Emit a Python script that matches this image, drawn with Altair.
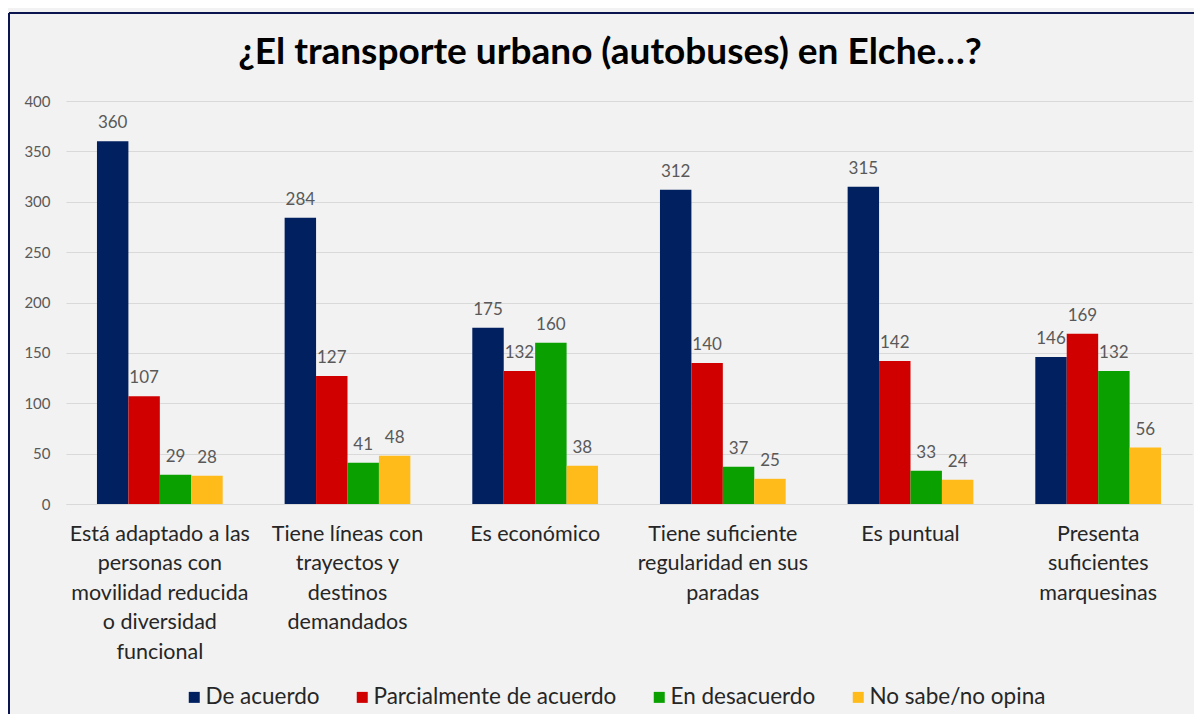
import altair as alt
import pandas as pd

categories = [
    "Está adaptado a las\npersonas con\nmovilidad reducida\no diversidad\nfuncional",
    "Tiene líneas con\ntrayectos y\ndestinos\ndemandados",
    "Es económico",
    "Tiene suficiente\nregularidad en sus\nparadas",
    "Es puntual",
    "Presenta\nsuficientes\nmarquesinas",
]
series = ["De acuerdo", "Parcialmente de acuerdo", "En desacuerdo", "No sabe/no opina"]
de_acuerdo = [360, 284, 175, 312, 315, 146]
parcialmente = [107, 127, 132, 140, 142, 169]
desacuerdo = [29, 41, 160, 37, 33, 132]
no_sabe = [28, 48, 38, 25, 24, 56]
colors = ["#002060", "#D00000", "#0AA000", "#FFBB1A"]
y_ticks = [0, 50, 100, 150, 200, 250, 300, 350, 400]
title_text = "¿El transporte urbano (autobuses) en Elche…?"

values_by_series = [de_acuerdo, parcialmente, desacuerdo, no_sabe]
rows = []
for s, vals in zip(series, values_by_series):
    for c, v in zip(categories, vals):
        rows.append({"cat": c, "series": s, "value": v})
df = pd.DataFrame(rows)

FONT = "Lato"

x_enc = alt.X(
    "cat:N",
    sort=categories,
    scale=alt.Scale(paddingInner=0.33, paddingOuter=0.165),
    axis=alt.Axis(
        title=None,
        labelAngle=0,
        labelExpr="split(datum.value, '\\n')",
        labelFont=FONT,
        labelFontSize=21.5,
        labelColor="#262626",
        labelLineHeight=29.5,
        labelPadding=19,
        labelLimit=400,
        ticks=False,
        domainColor="#D9D9D9",
        domainWidth=1,
    ),
)
xoff_enc = alt.XOffset("series:N", sort=series, scale=alt.Scale(paddingInner=0, paddingOuter=0))
y_enc = alt.Y(
    "value:Q",
    scale=alt.Scale(domain=[0, 400]),
    axis=alt.Axis(
        title=None,
        values=y_ticks,
        grid=True,
        gridColor="#D9D9D9",
        gridWidth=1,
        domain=False,
        ticks=False,
        labelPadding=16,
        labelFont=FONT,
        labelFontSize=15,
        labelColor="#595959",
    ),
)

bars = alt.Chart(df).mark_bar().encode(
    x=x_enc,
    xOffset=xoff_enc,
    y=y_enc,
    color=alt.Color(
        "series:N",
        sort=series,
        scale=alt.Scale(domain=series, range=colors),
        legend=alt.Legend(
            title=None,
            orient="none",
            direction="horizontal",
            legendX=117,
            legendY=585,
            symbolType="square",
            symbolSize=121,
            symbolStrokeWidth=0,
            labelFont=FONT,
            labelFontSize=22.5,
            labelColor="#262626",
            labelOffset=0,
            columnPadding=31,
            labelLimit=400,
        ),
    ),
)

labels = alt.Chart(df).mark_text(
    baseline="alphabetic", dy=-13, font=FONT, fontSize=17, color="#595959"
).encode(
    x=alt.X("cat:N", sort=categories),
    xOffset=alt.XOffset("series:N", sort=series),
    y=alt.Y("value:Q"),
    text=alt.Text("value:Q"),
)

border_data = alt.Data(values=[{"b": 1}])
top_border = alt.Chart(border_data).mark_rule(color="#0B1650", strokeWidth=2).encode(
    x=alt.value(-57), x2=alt.value(1128), y=alt.value(-88)
)
left_border = alt.Chart(border_data).mark_rule(color="#0B1650", strokeWidth=2).encode(
    x=alt.value(-57), y=alt.value(-88), y2=alt.value(613)
)

chart = (
    alt.layer(bars, labels, top_border, left_border)
    .properties(
        width=1126,
        height=403,
        title=alt.TitleParams(
            text=title_text,
            font=FONT,
            fontSize=37,
            fontWeight="bold",
            color="#000000",
            anchor="middle",
            offset=-56,
            dx=-19,
            dy=4,
        ),
        autosize=alt.AutoSizeParams(type="none"),
        padding={"left": 58, "top": 93, "right": 2, "bottom": 210},
        background="#F2F2F2",
    )
    .configure_view(stroke=None)
)

chart.save("out.html", embed_options={"renderer": "svg", "actions": False})
